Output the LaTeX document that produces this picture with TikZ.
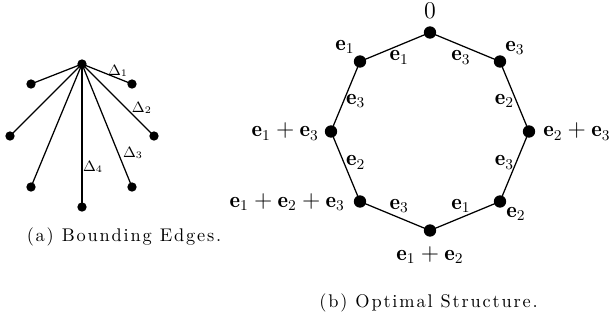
\documentclass[tikz,border=0pt]{standalone}
\usepackage{amsmath}
\usepackage{fontspec}
\newfontfamily\capfont{lmroman10-regular.otf}[LetterSpace=10]
\begin{document}
\begin{tikzpicture}[x=0.6pt,y=-0.6pt,
  sdot/.style={circle,fill=black,inner sep=0pt,minimum size=5.6pt},
  bdot/.style={circle,fill=black,inner sep=0pt,minimum size=7.4pt},
  conn/.style={line width=0.75pt},
  dl/.style={font=\fontsize{9}{11}\selectfont,inner sep=0pt},
  vl/.style={font=\fontsize{13.5}{16}\selectfont,inner sep=0pt},
  el/.style={font=\fontsize{13.5}{16}\selectfont,inner sep=0pt},
  captxt/.style={font=\capfont\fontsize{11}{13}\selectfont,inner sep=0pt}]
\useasboundingbox[fill=white] (0,0) rectangle (615,324);

% ---- (a) bounding edges ----
\node[sdot] (t) at (82,64) {};
\node[sdot] (a1) at (31,84) {};
\node[sdot] (a2) at (132,84) {};
\node[sdot] (a3) at (10,136) {};
\node[sdot] (a4) at (154,136) {};
\node[sdot] (a5) at (31,187) {};
\node[sdot] (a6) at (132,187) {};
\node[sdot] (a7) at (82,207) {};
\draw[conn] (t.center) -- (a1.center);
\draw[conn] (t.center) -- (a3.center);
\draw[conn] (t.center) -- (a5.center);
\draw[conn] (t.center) -- node[dl,pos=0.675,shift={(2.2,-6.5)}] {$\Delta_1$} (a2.center);
\draw[conn] (t.center) -- node[dl,pos=0.72,shift={(8,-8)}] {$\Delta_2$} (a4.center);
\draw[conn] (t.center) -- node[dl,pos=0.765,shift={(12.7,-5.2)}] {$\Delta_3$} (a6.center);
\draw[conn] (t.center) -- node[dl,pos=0.72,shift={(11,0)}] {$\Delta_4$} (a7.center);
\node[captxt] (capa) at (124,237) {(a)\ Bounding Edges.};

% ---- (b) optimal structure ----
\node[bdot] (v0) at (430,32.5) {};
\node[bdot] (v1) at (360,61.5) {};
\node[bdot] (v2) at (331,131.5) {};
\node[bdot] (v3) at (360,201.5) {};
\node[bdot] (v4) at (430,230.5) {};
\node[bdot] (v5) at (500,201.5) {};
\node[bdot] (v6) at (529,131.5) {};
\node[bdot] (v7) at (500,61.5) {};
\draw[conn] (v0.center) -- node[el,midway,shift={(4.2,10.2)}] {$\mathbf{e}_1$} (v1.center);
\draw[conn] (v1.center) -- node[el,midway,shift={(10.2,4.2)}] {$\mathbf{e}_3$} (v2.center);
\draw[conn] (v2.center) -- node[el,midway,shift={(10.2,-4.2)}] {$\mathbf{e}_2$} (v3.center);
\draw[conn] (v3.center) -- node[el,midway,shift={(4.2,-10.2)}] {$\mathbf{e}_3$} (v4.center);
\draw[conn] (v4.center) -- node[el,midway,shift={(-4.2,-10.2)}] {$\mathbf{e}_1$} (v5.center);
\draw[conn] (v5.center) -- node[el,midway,shift={(-10.2,-4.2)}] {$\mathbf{e}_3$} (v6.center);
\draw[conn] (v6.center) -- node[el,midway,shift={(-10.2,4.2)}] {$\mathbf{e}_2$} (v7.center);
\draw[conn] (v7.center) -- node[el,midway,shift={(-4.2,10.2)}] {$\mathbf{e}_3$} (v0.center);

\node[vl] (l0) at (430,11) {$0$};
\node[vl] (l1) at (345,47) {$\mathbf{e}_1$};
\node[vl] (l7) at (515,48) {$\mathbf{e}_3$};
\node[vl,anchor=east] (l2) at (319,131.5) {$\mathbf{e}_1+\mathbf{e}_3$};
\node[vl,anchor=west] (l6) at (543,131.5) {$\mathbf{e}_2+\mathbf{e}_3$};
\node[vl,anchor=east] (l3) at (345,202) {$\mathbf{e}_1+\mathbf{e}_2+\mathbf{e}_3$};
\node[vl] (l5) at (516,214) {$\mathbf{e}_2$};
\node[vl] (l4) at (430,255) {$\mathbf{e}_1+\mathbf{e}_2$};
\node[captxt] (capb) at (428.5,303) {(b)\ Optimal Structure.};
\end{tikzpicture}
\end{document}
